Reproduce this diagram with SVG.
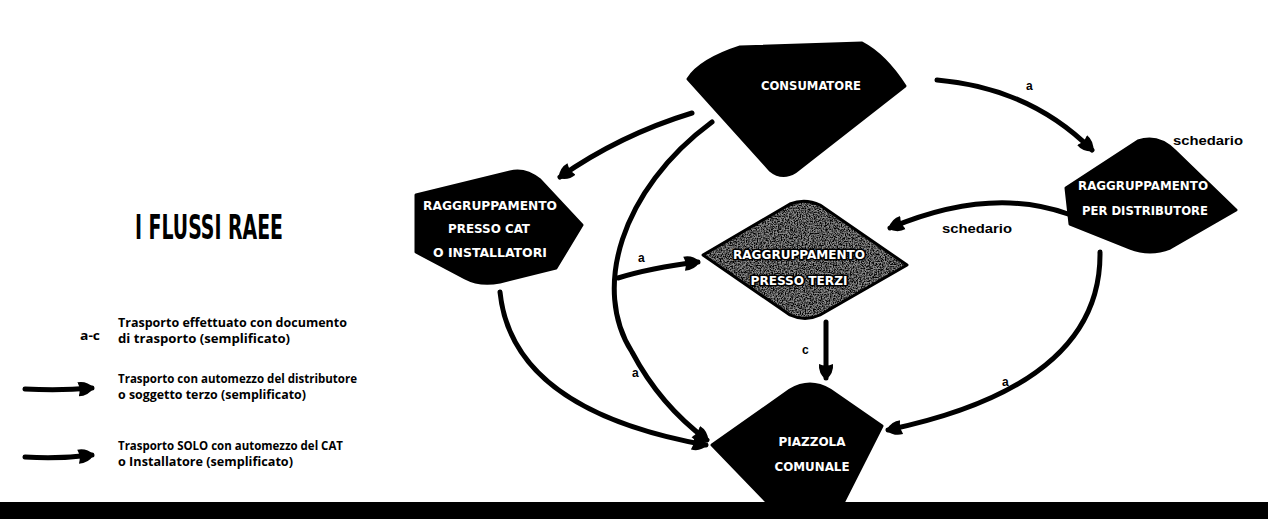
<svg xmlns="http://www.w3.org/2000/svg" width="1268" height="519" viewBox="0 0 1268 519">
<style>
.node{fill:#000;stroke:#000;stroke-width:3;stroke-linejoin:round}
.nt{fill:#fff;font-family:"Liberation Sans Narrow","DejaVu Sans Condensed","Liberation Sans",sans-serif;font-weight:bold;font-size:12px;text-anchor:middle}
.nt2{fill:#fff;stroke:#000;stroke-width:3;paint-order:stroke;stroke-linejoin:round}
.con{fill:none;stroke:#000;stroke-width:5;stroke-linecap:round;marker-end:url(#ah)}
.lbl{fill:#000;font-family:"Liberation Sans","Arial",sans-serif;font-weight:bold;font-size:12px}
.leg{fill:#000;font-family:"Liberation Sans Narrow","Open Sans","Liberation Sans",sans-serif;font-weight:bold;font-size:13px}
.title{fill:#000;font-family:"Liberation Sans Narrow","DejaVu Sans Condensed","Liberation Sans",sans-serif;font-weight:bold;font-size:34px}
</style>
<defs>
<marker id="ah" markerUnits="userSpaceOnUse" viewBox="0 -8 17 16" refX="14" refY="0" markerWidth="17" markerHeight="16" orient="auto">
<path d="M0,-7 Q9,-8 16,0 Q9,8 0,7 Q3,0 0,-7 Z" fill="#000"/>
</marker>
<filter id="speckle" x="0" y="0" width="100%" height="100%">
<feTurbulence type="fractalNoise" baseFrequency="0.75" numOctaves="2" seed="4" result="t"/>
<feColorMatrix in="t" type="matrix" values="0 0 0 0 0  0 0 0 0 0  0 0 0 0 0  0 0 0 -3 1.9" result="d"/>
<feComposite in="d" in2="SourceGraphic" operator="in"/>
</filter>
</defs>
<rect width="1268" height="519" fill="#fff"/>

<text class="title" x="135" y="239" textLength="148" lengthAdjust="spacingAndGlyphs">I FLUSSI RAEE</text>

<g id="legend">
<text class="leg" x="80" y="340" textLength="20" lengthAdjust="spacingAndGlyphs">a-c</text>
<text class="leg" x="118" y="327" textLength="229" lengthAdjust="spacingAndGlyphs">Trasporto effettuato con documento</text>
<text class="leg" x="118" y="343" textLength="172" lengthAdjust="spacingAndGlyphs">di trasporto (semplificato)</text>
<path class="con" d="M25,389 Q60,391 92,388"/>
<text class="leg" x="118" y="383" textLength="239" lengthAdjust="spacingAndGlyphs">Trasporto con automezzo del distributore</text>
<text class="leg" x="118" y="399" textLength="188" lengthAdjust="spacingAndGlyphs">o soggetto terzo (semplificato)</text>
<path class="con" d="M25,457 Q60,459 92,455"/>
<text class="leg" x="118" y="450" textLength="225" lengthAdjust="spacingAndGlyphs">Trasporto SOLO con automezzo del CAT</text>
<text class="leg" x="118" y="466" textLength="175" lengthAdjust="spacingAndGlyphs">o Installatore (semplificato)</text>
</g>

<g id="connectors">
<path class="con" d="M937,80 Q1030,88 1092,150"/>
<path class="con" d="M1068,214 Q990,186 890,228"/>
<path class="con" d="M692,113 Q620,135 560,177"/>
<path class="con" d="M712,122 C620,190 592,290 632,352 Q660,405 707,440"/>
<path class="con" d="M618,278 Q650,268 698,262"/>
<path class="con" d="M500,292 Q512,410 706,445"/>
<path class="con" d="M826,322 L826,378"/>
<path class="con" d="M1100,252 Q1102,385 888,430"/>
<text class="lbl" x="1026" y="90">a</text>
<text class="lbl" x="1173" y="145" textLength="70" lengthAdjust="spacingAndGlyphs">schedario</text>
<text class="lbl" x="942" y="233" textLength="70" lengthAdjust="spacingAndGlyphs">schedario</text>
<text class="lbl" x="638" y="262">a</text>
<text class="lbl" x="632" y="377">a</text>
<text class="lbl" x="802" y="354">c</text>
<text class="lbl" x="1002" y="386">a</text>
</g>

<g id="consumatore">
<path class="node" d="M688,79 Q700,60 740,47 L862,43 Q885,55 905,86 L795,172 Q782,180 770,170 Z"/>
<text class="nt" x="811" y="90" textLength="100" lengthAdjust="spacingAndGlyphs">CONSUMATORE</text>
</g>

<g id="cat">
<path class="node" d="M416,195 L510,172 Q525,168 540,180 L582,225 L556,268 L500,282 Q480,286 465,278 L416,252 Z"/>
<text class="nt" x="490" y="210" textLength="134" lengthAdjust="spacingAndGlyphs">RAGGRUPPAMENTO</text>
<text class="nt" x="489" y="233" textLength="82" lengthAdjust="spacingAndGlyphs">PRESSO CAT</text>
<text class="nt" x="490" y="257" textLength="114" lengthAdjust="spacingAndGlyphs">O INSTALLATORI</text>
</g>

<g id="distributore">
<path class="node" d="M1066,188 L1138,141 Q1158,134 1175,151 L1236,210 L1170,248 Q1150,256 1130,248 L1070,224 Z"/>
<text class="nt" x="1143" y="190" textLength="130" lengthAdjust="spacingAndGlyphs">RAGGRUPPAMENTO</text>
<text class="nt" x="1145" y="215" textLength="126" lengthAdjust="spacingAndGlyphs">PER DISTRIBUTORE</text>
</g>

<g id="terzi">
<path d="M703,255 L790,204 Q805,198 820,205 L907,265 L820,315 Q805,322 790,315 Z" fill="#8a8a8a" stroke="#000" stroke-width="3" stroke-linejoin="round"/>
<path d="M703,255 L790,204 Q805,198 820,205 L907,265 L820,315 Q805,322 790,315 Z" fill="#fff" filter="url(#speckle)"/>
<text class="nt nt2" x="799" y="259" textLength="132" lengthAdjust="spacingAndGlyphs">RAGGRUPPAMENTO</text>
<text class="nt nt2" x="799" y="285" textLength="97" lengthAdjust="spacingAndGlyphs">PRESSO TERZI</text>
</g>

<g id="piazzola">
<path class="node" d="M712,445 L790,390 Q810,378 830,390 L882,426 L842,505 L770,505 Z"/>
<text class="nt" x="812" y="446" textLength="67" lengthAdjust="spacingAndGlyphs">PIAZZOLA</text>
<text class="nt" x="812" y="471" textLength="75" lengthAdjust="spacingAndGlyphs">COMUNALE</text>
</g>

<rect x="0" y="502" width="1268" height="17" fill="#000"/>
</svg>
